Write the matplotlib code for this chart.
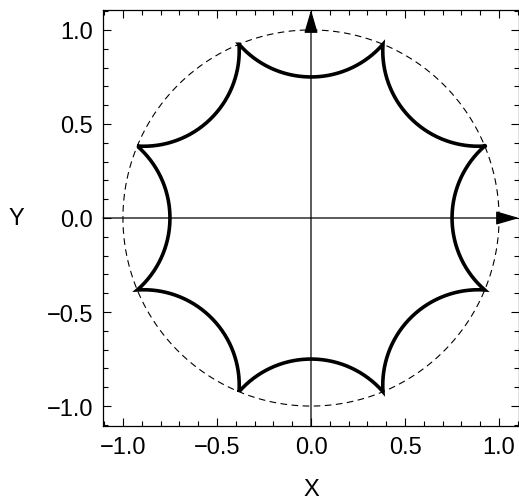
import numpy as np
import matplotlib
matplotlib.use("Agg")
import matplotlib.pyplot as plt

# cusps of the star sit on the unit circle, arcs dip in to mid_radius
cusp_angles_deg = [22.5, 67.5, 112.5, 157.5, 202.5, 247.5, 292.5, 337.5]
mid_radius = 0.75
circle_radius = 1.0

tick_values = [-1.0, -0.5, 0.0, 0.5, 1.0]
tick_labels = ["\u22121.0", "\u22120.5", "0.0", "0.5", "1.0"]
lim = 1.106


def arc_through(p1, p2, m, n=200):
    """Circular arc from p1 to p2 passing through m."""
    ax_, ay_ = p1
    bx, by = m
    cx, cy = p2
    d = 2 * (ax_ * (by - cy) + bx * (cy - ay_) + cx * (ay_ - by))
    ux = ((ax_**2 + ay_**2) * (by - cy) + (bx**2 + by**2) * (cy - ay_)
          + (cx**2 + cy**2) * (ay_ - by)) / d
    uy = ((ax_**2 + ay_**2) * (cx - bx) + (bx**2 + by**2) * (ax_ - cx)
          + (cx**2 + cy**2) * (bx - ax_)) / d
    r = np.hypot(ax_ - ux, ay_ - uy)
    t1 = np.arctan2(ay_ - uy, ax_ - ux)
    t2 = np.arctan2(cy - uy, cx - ux)
    tm = np.arctan2(by - uy, bx - ux)
    # choose the direction that goes through m
    dt = (t2 - t1) % (2 * np.pi)
    if (tm - t1) % (2 * np.pi) > dt:
        dt = dt - 2 * np.pi
    t = t1 + np.linspace(0, dt, n)
    return ux + r * np.cos(t), uy + r * np.sin(t)


plt.rcParams["font.family"] = ["Liberation Sans", "DejaVu Sans"]

fig = plt.figure(figsize=(5.19, 5.02), dpi=100)
ax = fig.add_axes([103 / 519, 75 / 502, 416 / 519, 416 / 502])

# dashed unit circle
th = np.linspace(0, 2 * np.pi, 400)
ax.plot(circle_radius * np.cos(th), circle_radius * np.sin(th),
        color="black", lw=0.8, ls=(0, (6, 4)))

# star made of inward arcs
xs, ys = [], []
n = len(cusp_angles_deg)
for i in range(n):
    a1 = np.radians(cusp_angles_deg[i])
    a2 = np.radians(cusp_angles_deg[(i + 1) % n])
    am = np.radians(cusp_angles_deg[i] + 22.5)
    p1 = (circle_radius * np.cos(a1), circle_radius * np.sin(a1))
    p2 = (circle_radius * np.cos(a2), circle_radius * np.sin(a2))
    m = (mid_radius * np.cos(am), mid_radius * np.sin(am))
    x, y = arc_through(p1, p2, m)
    xs.append(x)
    ys.append(y)
ax.plot(np.concatenate(xs), np.concatenate(ys), color="black", lw=2.6,
        solid_joinstyle="miter")

# axes with arrows
arrow = dict(arrowstyle="-|>,head_length=0.72,head_width=0.21",
             color="black", lw=0.9, mutation_scale=20, shrinkA=0, shrinkB=0)
ax.annotate("", xy=(lim, 0), xytext=(-lim, 0), arrowprops=arrow,
            annotation_clip=False)
ax.annotate("", xy=(0, lim), xytext=(0, -lim), arrowprops=arrow,
            annotation_clip=False)

ax.set_xlim(-lim, lim)
ax.set_ylim(-lim, lim)
ax.set_aspect("auto")

ax.set_xticks(tick_values)
ax.set_xticklabels(tick_labels)
ax.set_yticks(tick_values)
ax.set_yticklabels(tick_labels)
ax.set_xticks(np.arange(-1.1, 1.11, 0.1), minor=True)
ax.set_yticks(np.arange(-1.1, 1.11, 0.1), minor=True)
ax.tick_params(which="both", direction="in", top=True, right=True,
               labelsize=17, width=0.8)
ax.tick_params(which="major", length=6, pad=7)
ax.tick_params(which="minor", length=3.5)
for s in ax.spines.values():
    s.set_linewidth(0.9)

ax.set_xlabel("X", fontsize=17, va="center")
ax.set_ylabel("Y", fontsize=17, rotation=0, va="center", ha="center")
ax.xaxis.set_label_coords(0.5, -0.151)
ax.yaxis.set_label_coords(-0.209, 0.5)

fig.savefig("out.png", dpi=100)
